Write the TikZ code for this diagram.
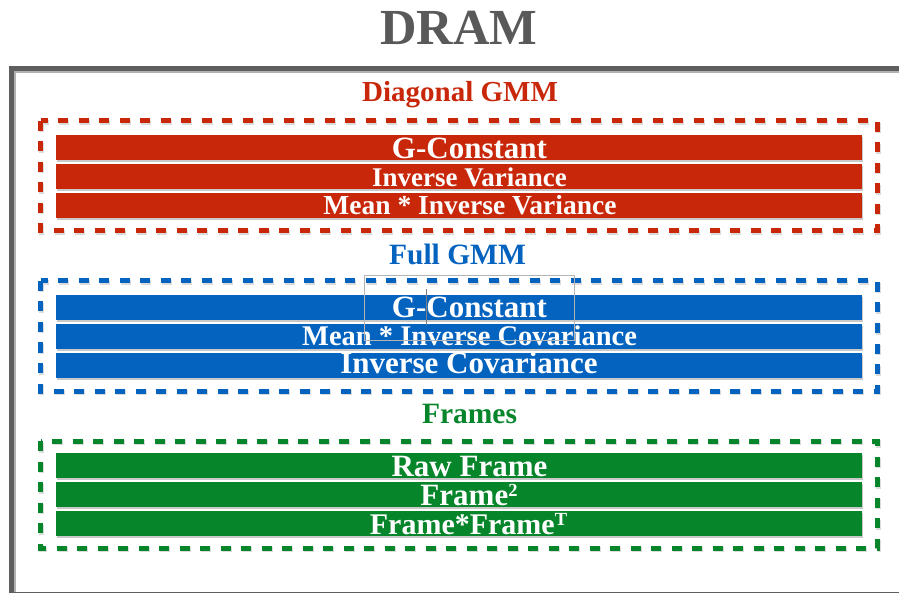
\documentclass[tikz,border=0pt]{standalone}
\usepackage{fontspec}
\setmainfont{Liberation Serif}
\definecolor{dgmm}{HTML}{C8270A}
\definecolor{fgmm}{HTML}{0563C0}
\definecolor{frm}{HTML}{06852A}
\definecolor{frame}{HTML}{5E5E5E}
\definecolor{ttl}{HTML}{595959}
\definecolor{sel}{HTML}{B4B4B4}
\newcommand\fsz[1]{\fontsize{#1}{#1}\selectfont\bfseries}
\newcommand\supx[1]{\raisebox{9pt}{\fontsize{18.5}{18.5}\selectfont\bfseries #1}}
\begin{document}
\begin{tikzpicture}[x=1pt,y=-1pt,
  bar/.style={fill=#1, minimum width=806.5pt, minimum height=25pt,
              inner sep=0pt, outer sep=0pt, anchor=north west},
  barshadow/.style={fill=black!35, opacity=.6},
  lbl/.style={anchor=base, text=white, inner sep=0pt},
  head/.style={anchor=base, inner sep=0pt, text=#1},
  dbox/.style={draw=#1, line width=5pt, dash pattern=on 10pt off 10.5pt},
  dshadow/.style={draw=black!40, opacity=.35, line width=5pt,
                  dash pattern=on 10pt off 10.5pt}]
\clip (0,0) rectangle (899,593);
\fill[white] (0,0) rectangle (899,593);

% title
\node[head=ttl] (title) at (459,45) {\fsz{50.5}DRAM};

% outer memory frame
\draw[black!30, line width=5pt] (13,71) rectangle (907,596);
\draw[frame, line width=5pt] (11.5,69) rectangle (905,594.5);

% group outlines
\foreach \t/\b/\c in {121/231/dgmm, 281/391/fgmm, 441/548/frm}{
  \draw[dshadow] (41.5,\t+1.5) -- (41.5,\b+1.5) -- (878,\b+1.5) -- (878,\t+1.5) -- cycle;
  \draw[dbox=\c] (40.5,\t) -- (40.5,\b) -- (877,\b) -- (877,\t) -- cycle;
}

% group headings
\node[head=dgmm] (hd) at (460,102) {\fsz{29}Diagonal GMM};
\node[head=fgmm] (hf) at (457.5,264.5) {\fsz{29.5}Full GMM};
\node[head=frm]  (hr) at (469.5,423.5) {\fsz{29.5}Frames};

% bar shadows
\foreach \y in {135,164,193, 295,324,353, 453,482,511}{
  \fill[barshadow] (56.5,\y+2) rectangle (863,\y+27);
}

% Diagonal GMM
\node[bar=dgmm] (d1) at (55.5,135) {};
\node[bar=dgmm] (d2) at (55.5,164) {};
\node[bar=dgmm] (d3) at (55.5,193) {};
\node[lbl] (d1t) at (469.5,158.5) {\fsz{31}G-Constant};
\node[lbl] (d2t) at (469.5,186.5) {\fsz{27}Inverse Variance};
\node[lbl] (d3t) at (470,215) {\fsz{27.5}Mean * Inverse Variance};

% Full GMM
\node[bar=fgmm] (f1) at (55.5,295) {};
\node[bar=fgmm] (f2) at (55.5,324) {};
\node[bar=fgmm] (f3) at (55.5,353) {};
\node[lbl] (f1t) at (469.5,317.5) {\fsz{31}G-Constant};
\node[lbl] (f2t) at (469.5,345.5) {\fsz{28.5}Mean * Inverse Covariance};
\node[lbl] (f3t) at (469,373.5) {\fsz{31}Inverse Covariance};

% Frames
\node[bar=frm] (r1) at (55.5,453) {};
\node[bar=frm] (r2) at (55.5,482) {};
\node[bar=frm] (r3) at (55.5,511) {};
\node[lbl] (r1t) at (469.5,476.5) {\fsz{31}Raw Frame};
\node[lbl] (r2t) at (469,505.5) {\fsz{31}Frame\supx{2}};
\node[lbl] (r3t) at (468.5,534) {\fsz{30}Frame*Frame\supx{T}};

% text box outline and cursor over the first Full GMM label
\draw[sel, line width=0.8pt] (364.5,275) rectangle (574.5,340);
\draw[sel!70!black, line width=0.8pt] (426,289) -- (426,325);
\end{tikzpicture}
\end{document}
